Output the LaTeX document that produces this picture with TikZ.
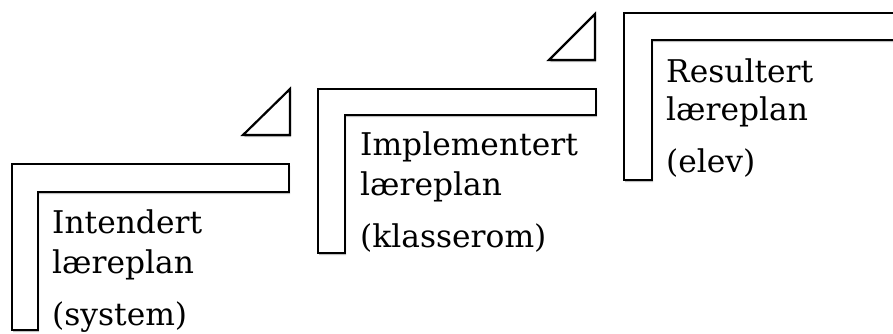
\documentclass[tikz,border=0pt]{standalone}
\usepackage{fontspec}
\setmainfont{DejaVu Serif}
\usetikzlibrary{shadows}
\tikzset{
  frame/.style={draw=black, line width=2.2pt, fill=white, line join=miter,
    drop shadow={shadow xshift=1pt, shadow yshift=-2pt, opacity=0.25, fill=black}},
  tri/.style={frame},
  lbl/.style={anchor=base west, inner sep=0pt, font=\fontsize{31.3}{36}\selectfont}
}
\begin{document}
\begin{tikzpicture}[x=1pt,y=-1pt]
\useasboundingbox (0,0) rectangle (893,333);
% step 1
\path[frame] (12,164) -- (289,164) -- (289,192) -- (38,192) -- (38,330) -- (12,330) -- cycle;
\node[lbl] (a1) at (52,233) {Intendert};
\node[lbl] (a2) at (52,273) {læreplan};
\node[lbl] (a3) at (52,325) {(system)};
% triangle 1
\path[tri] (243,135) -- (290,89) -- (290,135) -- cycle;
% step 2
\path[frame] (318,89) -- (596,89) -- (596,115) -- (345,115) -- (345,253) -- (318,253) -- cycle;
\node[lbl] (b1) at (360,155) {Implementert};
\node[lbl] (b2) at (360,195) {læreplan};
\node[lbl] (b3) at (360,247) {(klasserom)};
% triangle 2
\path[tri] (549,60) -- (595,14) -- (595,60) -- cycle;
% step 3
\path[frame] (624,13) -- (900,13) -- (900,40) -- (652,40) -- (652,180) -- (624,180) -- cycle;
\node[lbl] (c1) at (666,82) {Resultert};
\node[lbl] (c2) at (666,120) {læreplan};
\node[lbl] (c3) at (666,172) {(elev)};
\end{tikzpicture}
\end{document}
